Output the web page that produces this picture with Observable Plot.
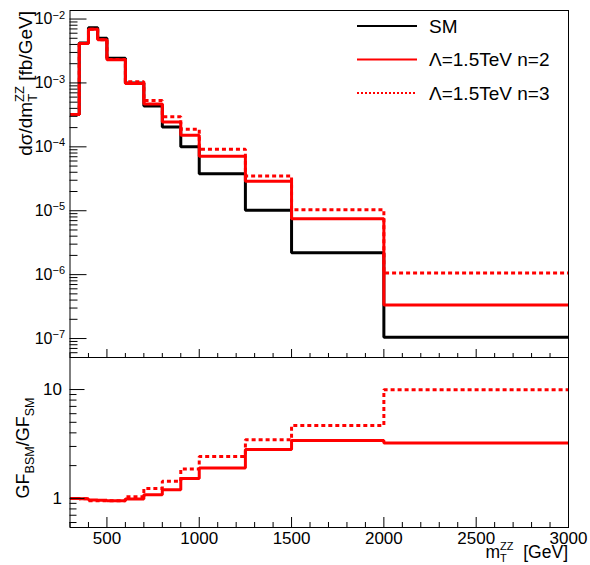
<!DOCTYPE html>
<html><head><meta charset="utf-8">
<script src="https://cdn.jsdelivr.net/npm/d3@7"></script>
<script src="https://cdn.jsdelivr.net/npm/@observablehq/plot@0.6"></script>
<style>
html,body{margin:0;padding:0;background:#fff;}
#chart{position:relative;width:590px;height:565px;font-family:"Liberation Sans",Arial,Helvetica,sans-serif;}
#chart svg{position:absolute;left:0;overflow:visible;}
</style></head><body><div id="chart"></div>
<script>
// ---- data ----
const binEdges = [300, 350, 400, 450, 500, 600, 700, 800, 900, 1000, 1250, 1500, 2000, 3000];
const smValues = [3.2e-4, 4.2e-3, 7.3e-3, 5.0e-3, 2.44e-3, 1.0e-3, 4.35e-4, 2.05e-4, 1.0e-4, 3.8e-5, 1.02e-5, 2.2e-6, 1.05e-7];
const n2Values = [3.2e-4, 4.15e-3, 6.9e-3, 4.75e-3, 2.3e-3, 9.8e-4, 4.7e-4, 2.45e-4, 1.52e-4, 7.1e-5, 2.89e-5, 7.5e-6, 3.35e-7];
const n3Values = [3.2e-4, 4.15e-3, 6.9e-3, 4.75e-3, 2.32e-3, 1.04e-3, 5.3e-4, 2.95e-4, 1.88e-4, 9.2e-5, 3.5e-5, 1.04e-5, 1.06e-6];
const ratioN2 = [1.0, 0.99, 0.965, 0.96, 0.95, 0.985, 1.08, 1.2, 1.52, 1.9, 2.82, 3.4, 3.22];
const ratioN3 = [1.0, 0.99, 0.95, 0.95, 0.95, 1.036, 1.23, 1.44, 1.86, 2.43, 3.45, 4.67, 9.94];
const seriesNames = ["SM", "Λ=1.5TeV n=2", "Λ=1.5TeV n=3"];
const topMajorTicks = [1e-7, 1e-6, 1e-5, 1e-4, 1e-3, 1e-2];
const topTickLabels = ["10^−7", "10^−6", "10^−5", "10^−4", "10^−3", "10^−2"];
const ratioMajorTicks = [1, 10];
const ratioTickLabels = ["1", "10"];
const xMajorTicks = [500, 1000, 1500, 2000, 2500, 3000];
const xTickLabels = ["500", "1000", "1500", "2000", "2500", "3000"];

// ---- layout / style ----
const W = 590, ML = 69.5, MR = 22;
const FONT = '"Liberation Sans", Arial, Helvetica, sans-serif';
const RED = "#ff0000";
const topYDomain = [5.05e-8, 1.36e-2];
const ratioDomain = [0.54, 19.7];
const xDomain = [300, 3000];

function steps(values) {
  return binEdges.map((e, i) => ({x: e, y: values[Math.min(i, values.length - 1)]}));
}
function minorLog(lo, hi) {
  const out = [];
  for (let k = -9; k <= 2; k++) for (let m = 2; m <= 9; m++) {
    const v = m * Math.pow(10, k);
    if (v >= lo && v <= hi) out.push(v);
  }
  return out;
}
const xMinorTicks = d3.range(300, 3001, 100).filter(v => v % 500 !== 0);
const topLabelMap = new Map(topMajorTicks.map((t, i) => [t, topTickLabels[i]]));
const ratioLabelMap = new Map(ratioMajorTicks.map((t, i) => [t, ratioTickLabels[i]]));
const xLabelMap = new Map(xMajorTicks.map((t, i) => [t, xTickLabels[i]]));
const blank = () => "";

const lineOpts = {x: "x", y: "y", curve: "step-after", strokeWidth: 3, strokeLinecap: "butt", strokeLinejoin: "miter", clip: true};
const DOTS = "4,3";

const topPlot = Plot.plot({
  width: W, height: 360,
  marginLeft: ML, marginRight: MR, marginTop: 10, marginBottom: 3,
  style: {fontFamily: FONT, fontSize: "16px", color: "black", background: "transparent", overflow: "visible"},
  x: {domain: xDomain},
  y: {type: "log", domain: topYDomain},
  marks: [
    Plot.lineY(steps(smValues), {...lineOpts, stroke: "black"}),
    Plot.lineY(steps(n2Values), {...lineOpts, stroke: RED}),
    Plot.lineY(steps(n3Values), {...lineOpts, stroke: RED, strokeDasharray: DOTS}),
    Plot.axisY(minorLog(topYDomain[0], topYDomain[1]), {anchor: "left", tickSize: 8, dx: 8, tickFormat: blank, label: null}),
    Plot.axisY(topMajorTicks, {anchor: "left", tickSize: 17, dx: 17, tickFormat: blank, label: null}),
    Plot.axisY(topMajorTicks, {anchor: "left", tickSize: 0, tickPadding: 5, tickFormat: d => topLabelMap.get(d), label: null}),
    Plot.axisX(xMinorTicks, {anchor: "bottom", tickSize: 4, dy: -4, tickFormat: blank, label: null}),
    Plot.axisX(xMajorTicks, {anchor: "bottom", tickSize: 8, dy: -8, tickFormat: blank, label: null}),
    Plot.frame({stroke: "black", strokeWidth: 1})
  ]
});

const ratioPlot = Plot.plot({
  width: W, height: 218,
  marginLeft: ML, marginRight: MR, marginTop: 10, marginBottom: 38,
  style: {fontFamily: FONT, fontSize: "17px", color: "black", background: "transparent", overflow: "visible"},
  x: {domain: xDomain},
  y: {type: "log", domain: ratioDomain},
  marks: [
    Plot.lineY(steps(ratioN2), {...lineOpts, stroke: RED}),
    Plot.lineY(steps(ratioN3), {...lineOpts, stroke: RED, strokeDasharray: DOTS}),
    Plot.axisY(minorLog(ratioDomain[0], ratioDomain[1]), {anchor: "left", tickSize: 7, dx: 7, tickFormat: blank, label: null}),
    Plot.axisY(ratioMajorTicks, {anchor: "left", tickSize: 15, dx: 15, tickFormat: blank, label: null}),
    Plot.axisY(ratioMajorTicks, {anchor: "left", tickSize: 0, tickPadding: 8, tickFormat: d => ratioLabelMap.get(d), label: null}),
    Plot.axisX(xMinorTicks, {anchor: "bottom", tickSize: 5, dy: -5, tickFormat: blank, label: null}),
    Plot.axisX(xMajorTicks, {anchor: "bottom", tickSize: 10, dy: -10, tickFormat: blank, label: null}),
    Plot.axisX(xMajorTicks, {anchor: "bottom", tickSize: 0, tickPadding: 4, tickFormat: d => xLabelMap.get(d), label: null}),
    Plot.frame({stroke: "black", strokeWidth: 1})
  ]
});

// superscript post-processing of "10^−n" labels
d3.select(topPlot).selectAll("text").each(function () {
  const m = (this.textContent || "").match(/^(\d+)\^(.+)$/);
  if (!m) return;
  const t = d3.select(this);
  t.text("");
  t.append("tspan").text(m[1]);
  t.append("tspan").attr("dy", "-0.5em").attr("font-size", "11px").text(m[2]);
});

const chart = document.getElementById("chart");
topPlot.style.top = "0px";
ratioPlot.style.top = "347px";
chart.appendChild(topPlot);
chart.appendChild(ratioPlot);

// overlay: axis titles and legend
const ov = d3.select(chart).append("svg")
  .attr("width", W).attr("height", 565)
  .style("top", "0px").style("pointer-events", "none")
  .attr("font-family", FONT).attr("fill", "black");

// top y title: dσ/dm_T^ZZ [fb/GeV]
const yt = ov.append("text").attr("transform", "translate(32,11) rotate(-90)")
  .attr("text-anchor", "end").attr("font-size", "19px");
yt.append("tspan").text("dσ/dm");
yt.append("tspan").attr("font-size", "13px").attr("dy", 5).text("T");
yt.append("tspan").attr("font-size", "13px").attr("dx", -8).attr("dy", -13).text("ZZ");
yt.append("tspan").attr("dy", 8).text(" [fb/GeV]");

// ratio y title: GF_BSM/GF_SM
const rt = ov.append("text").attr("transform", "translate(29,448) rotate(-90)")
  .attr("text-anchor", "middle").attr("font-size", "18px");
rt.append("tspan").text("GF");
rt.append("tspan").attr("font-size", "12.5px").attr("dy", 5).text("BSM");
rt.append("tspan").attr("dy", -5).text("/GF");
rt.append("tspan").attr("font-size", "12.5px").attr("dy", 5).text("SM");

// x title: m_T^ZZ  [GeV]
const xt = ov.append("text").attr("x", 568).attr("y", 558)
  .attr("text-anchor", "end").attr("font-size", "17.5px");
xt.append("tspan").text("m");
xt.append("tspan").attr("font-size", "11px").attr("dy", 3.5).text("T");
xt.append("tspan").attr("font-size", "11px").attr("dx", -6.7).attr("dy", -11.5).text("ZZ");
xt.append("tspan").attr("dy", 8).text("\u00a0\u00a0[GeV]");

// legend
const legendStyles = [
  {stroke: "black", dash: null},
  {stroke: RED, dash: null},
  {stroke: RED, dash: "2,2"}
];
const lg = ov.append("g").attr("transform", "translate(357,26)");
seriesNames.forEach((name, i) => {
  const g = lg.append("g").attr("transform", `translate(0,${i * 33.5})`);
  g.append("line").attr("x1", 0).attr("x2", 60).attr("y1", 0).attr("y2", 0)
    .attr("stroke", legendStyles[i].stroke).attr("stroke-width", 2.2)
    .attr("stroke-dasharray", legendStyles[i].dash);
  g.append("text").attr("x", 72).attr("y", 0).attr("dy", "0.36em")
    .attr("font-size", "19px").text(name);
});
</script>
</body></html>
